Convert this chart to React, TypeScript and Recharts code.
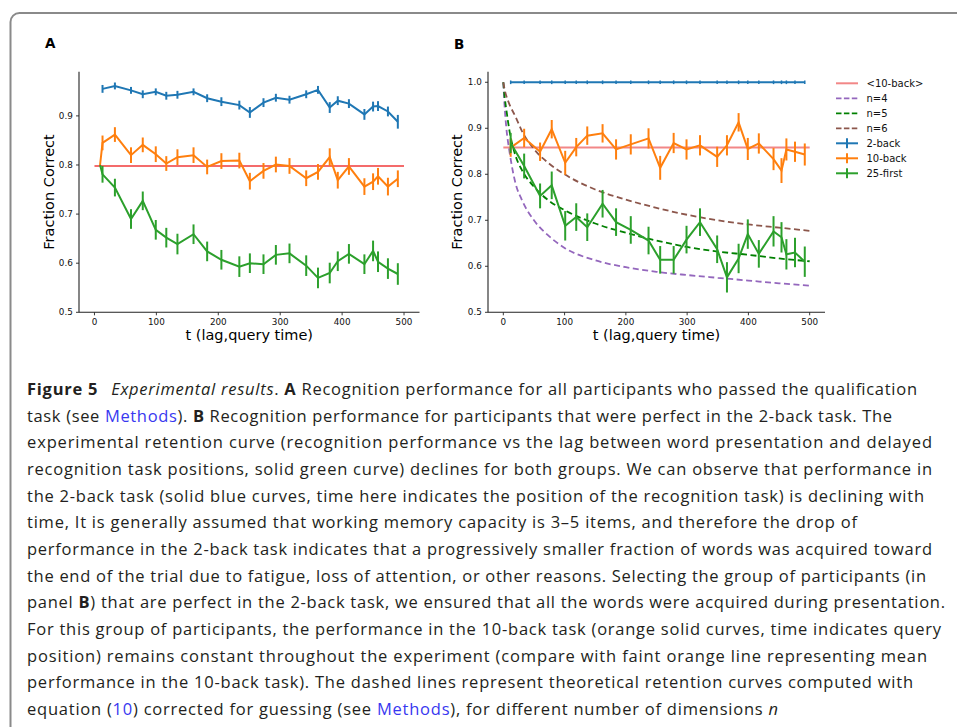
import React from 'react'
import { LineChart, Line, XAxis, YAxis, ErrorBar } from 'recharts'

// ---- panel A: everyone who passed the qualification task
const lagA = [13, 33, 59, 78, 99, 116, 134, 160, 182, 205, 234, 251, 273, 293, 315, 342, 361, 380, 393, 411, 436, 450, 458, 474, 490]
const twoBackA = [0.955, 0.961, 0.952, 0.944, 0.949, 0.941, 0.943, 0.949, 0.936, 0.929, 0.922, 0.907, 0.927, 0.937, 0.933, 0.944, 0.953, 0.917, 0.931, 0.925, 0.903, 0.919, 0.92, 0.909, 0.888]
const twoBackErrA = [0.008, 0.007, 0.007, 0.008, 0.007, 0.008, 0.008, 0.007, 0.008, 0.009, 0.009, 0.011, 0.009, 0.008, 0.008, 0.008, 0.008, 0.011, 0.009, 0.009, 0.011, 0.01, 0.01, 0.01, 0.014]
// 10-back and 25-first both begin with an extra point at lag 9
const lagA9 = [9, 13, 33, 59, 78, 99, 116, 134, 160, 182, 205, 234, 251, 273, 293, 315, 342, 361, 380, 393, 411, 436, 450, 458, 474, 490]
const tenBackA = [0.8, 0.845, 0.862, 0.82, 0.841, 0.822, 0.803, 0.816, 0.82, 0.796, 0.808, 0.809, 0.767, 0.788, 0.801, 0.798, 0.773, 0.786, 0.816, 0.769, 0.797, 0.756, 0.766, 0.777, 0.756, 0.772]
const tenBackErrA = [0, 0.015, 0.015, 0.016, 0.015, 0.016, 0.015, 0.016, 0.016, 0.015, 0.016, 0.016, 0.017, 0.016, 0.016, 0.016, 0.016, 0.016, 0.018, 0.017, 0.017, 0.017, 0.017, 0.017, 0.018, 0.017]
const firstA = [0.8, 0.781, 0.754, 0.69, 0.727, 0.668, 0.652, 0.639, 0.659, 0.624, 0.607, 0.593, 0.6, 0.598, 0.617, 0.62, 0.595, 0.57, 0.58, 0.604, 0.619, 0.598, 0.625, 0.603, 0.589, 0.578]
const firstErrA = [0, 0.017, 0.018, 0.02, 0.019, 0.02, 0.02, 0.021, 0.02, 0.02, 0.02, 0.021, 0.02, 0.02, 0.02, 0.02, 0.021, 0.021, 0.021, 0.02, 0.02, 0.02, 0.021, 0.021, 0.021, 0.022]
const meanTenBackA = 0.798

// ---- panel B: participants perfect in the 2-back task
const lagB = [12, 34, 60, 79, 101, 119, 137, 162, 184, 208, 237, 256, 278, 299, 321, 349, 365, 384, 399, 417, 441, 454, 462, 476, 492]
const twoBackB = [1, 1, 1, 1, 1, 1, 1, 1, 1, 1, 1, 1, 1, 1, 1, 1, 1, 1, 1, 1, 1, 1, 1, 1, 1]
const twoBackErrB = [0.004, 0.004, 0.004, 0.004, 0.004, 0.004, 0.004, 0.004, 0.004, 0.004, 0.004, 0.004, 0.004, 0.004, 0.004, 0.004, 0.004, 0.004, 0.004, 0.004, 0.004, 0.004, 0.004, 0.004, 0.004]
const tenBackB = [0.858, 0.879, 0.849, 0.898, 0.825, 0.859, 0.884, 0.889, 0.854, 0.865, 0.878, 0.814, 0.868, 0.854, 0.863, 0.838, 0.863, 0.913, 0.855, 0.867, 0.833, 0.808, 0.854, 0.849, 0.843]
const tenBackErrB = [0.02, 0.02, 0.02, 0.02, 0.026, 0.02, 0.02, 0.02, 0.022, 0.022, 0.022, 0.026, 0.022, 0.022, 0.022, 0.022, 0.022, 0.02, 0.024, 0.022, 0.024, 0.027, 0.024, 0.022, 0.024]
const firstB = [0.868, 0.818, 0.753, 0.776, 0.688, 0.707, 0.685, 0.736, 0.696, 0.679, 0.656, 0.614, 0.614, 0.658, 0.696, 0.637, 0.576, 0.617, 0.67, 0.627, 0.676, 0.663, 0.626, 0.63, 0.61]
const firstErrB = [0.022, 0.027, 0.027, 0.03, 0.032, 0.03, 0.03, 0.03, 0.03, 0.03, 0.03, 0.03, 0.03, 0.03, 0.03, 0.03, 0.033, 0.032, 0.032, 0.03, 0.033, 0.033, 0.033, 0.032, 0.033]
const meanTenBackB = 0.858

// theoretical retention curves (corrected for guessing)
const tTheory = [0, 2, 5, 10, 20, 30, 50, 75, 100, 150, 200, 250, 300, 350, 400, 450, 500]
const theoryN4 = [1, 0.95, 0.9, 0.85, 0.78, 0.745, 0.7, 0.665, 0.64, 0.613, 0.598, 0.588, 0.581, 0.575, 0.569, 0.563, 0.558]
const theoryN5 = [1, 0.97, 0.94, 0.895, 0.84, 0.81, 0.773, 0.742, 0.722, 0.693, 0.673, 0.656, 0.642, 0.632, 0.625, 0.617, 0.611]
const theoryN6 = [1, 0.985, 0.97, 0.952, 0.925, 0.895, 0.855, 0.823, 0.8, 0.767, 0.745, 0.727, 0.712, 0.7, 0.691, 0.684, 0.677]

const meanSpan = [0, 500]
const ticksX = [0, 100, 200, 300, 400, 500]
const ticksYA = [0.5, 0.6, 0.7, 0.8, 0.9]
const ticksYB = [0.5, 0.6, 0.7, 0.8, 0.9, 1.0]

const legendNames = ['<10-back>', 'n=4', 'n=5', 'n=6', '2-back', '10-back', '25-first']

const C = {
  blue: '#1f77b4',
  orange: '#ff7f0e',
  green: '#2ca02c',
  purple: '#9467bd',
  dkgreen: '#008000',
  brown: '#8c564b',
  redA: '#f03a3a',
  redB: '#f28787',
}

const FONT = "'DejaVu Sans', sans-serif"
const CAP_FONT = "'Open Sans', sans-serif"

function rows(t: number[], v: number[], e?: number[]) {
  return t.map((x, i) => ({ t: x, v: v[i], err: e ? e[i] : 0 }))
}

const tickStyle = { fill: '#111', fontSize: 8.8, fontFamily: FONT }
const labelStyle = { fill: '#000', fontSize: 14.5, fontFamily: FONT }

// shared matplotlib-like axes: only left and bottom spines
function axes(yDomain: number[], yTicks: number[], yWidth: number, yLabelOffset: number) {
  return [
    <XAxis
      key="x"
      type="number"
      dataKey="t"
      domain={[-25, 525]}
      ticks={ticksX}
      interval={0}
      allowDataOverflow
      height={47.7}
      tick={tickStyle}
      tickSize={3}
      tickMargin={3}
      axisLine={{ stroke: '#222', strokeWidth: 1.1 }}
      tickLine={{ stroke: '#222', strokeWidth: 0.9 }}
      label={{ value: 't (lag,query time)', position: 'insideBottom', offset: 20.5, ...labelStyle }}
    />,
    <YAxis
      key="y"
      type="number"
      domain={yDomain}
      ticks={yTicks}
      interval={0}
      allowDataOverflow
      width={yWidth}
      tick={tickStyle}
      tickSize={3}
      tickMargin={3.2}
      tickFormatter={(v: number) => v.toFixed(1)}
      axisLine={{ stroke: '#222', strokeWidth: 1.1 }}
      tickLine={{ stroke: '#222', strokeWidth: 0.9 }}
      label={{
        value: 'Fraction Correct',
        angle: -90,
        position: 'insideLeft',
        offset: yLabelOffset,
        ...labelStyle,
        style: { textAnchor: 'middle' },
      }}
    />,
  ]
}

function PanelA() {
  return (
    <LineChart width={430} height={360} margin={{ top: 71.7, right: 10.5, bottom: 0, left: 0 }}>
      {axes([0.5, 0.99], ticksYA, 79, 48.5)}
      <Line
        data={rows(meanSpan, [meanTenBackA, meanTenBackA])}
        dataKey="v"
        stroke={C.redA}
        strokeWidth={1.3}
        dot={false}
        activeDot={false}
        isAnimationActive={false}
      />
      <Line data={rows(lagA, twoBackA, twoBackErrA)} dataKey="v" stroke={C.blue} strokeWidth={2} dot={false} activeDot={false} isAnimationActive={false}>
        <ErrorBar dataKey="err" width={0} stroke={C.blue} strokeWidth={2} direction="y" />
      </Line>
      <Line data={rows(lagA9, tenBackA, tenBackErrA)} dataKey="v" stroke={C.orange} strokeWidth={2} dot={false} activeDot={false} isAnimationActive={false}>
        <ErrorBar dataKey="err" width={0} stroke={C.orange} strokeWidth={2} direction="y" />
      </Line>
      <Line data={rows(lagA9, firstA, firstErrA)} dataKey="v" stroke={C.green} strokeWidth={2} dot={false} activeDot={false} isAnimationActive={false}>
        <ErrorBar dataKey="err" width={0} stroke={C.green} strokeWidth={2} direction="y" />
      </Line>
    </LineChart>
  )
}

function PanelB() {
  const dash = { strokeWidth: 1.8, strokeDasharray: '6 3.5', dot: false, activeDot: false, isAnimationActive: false, type: 'monotone' as const }
  return (
    <LineChart width={537} height={360} margin={{ top: 71.7, right: 132, bottom: 0, left: 0 }}>
      {axes([0.5, 1.023], ticksYB, 68, 36.5)}
      <Line
        data={rows(meanSpan, [meanTenBackB, meanTenBackB])}
        dataKey="v"
        stroke={C.redB}
        strokeWidth={2}
        dot={false}
        activeDot={false}
        isAnimationActive={false}
      />
      <Line data={rows(tTheory, theoryN4)} dataKey="v" stroke={C.purple} {...dash} />
      <Line data={rows(tTheory, theoryN5)} dataKey="v" stroke={C.dkgreen} {...dash} />
      <Line data={rows(tTheory, theoryN6)} dataKey="v" stroke={C.brown} {...dash} />
      <Line data={rows(lagB, twoBackB, twoBackErrB)} dataKey="v" stroke={C.blue} strokeWidth={2} dot={false} activeDot={false} isAnimationActive={false}>
        <ErrorBar dataKey="err" width={0} stroke={C.blue} strokeWidth={1.5} direction="y" />
      </Line>
      <Line data={rows(lagB, tenBackB, tenBackErrB)} dataKey="v" stroke={C.orange} strokeWidth={2} dot={false} activeDot={false} isAnimationActive={false}>
        <ErrorBar dataKey="err" width={0} stroke={C.orange} strokeWidth={2} direction="y" />
      </Line>
      <Line data={rows(lagB, firstB, firstErrB)} dataKey="v" stroke={C.green} strokeWidth={2} dot={false} activeDot={false} isAnimationActive={false}>
        <ErrorBar dataKey="err" width={0} stroke={C.green} strokeWidth={2} direction="y" />
      </Line>
    </LineChart>
  )
}

function LegendB() {
  const colors = [C.redB, C.purple, C.dkgreen, C.brown, C.blue, C.orange, C.green]
  const kinds = ['solid', 'dash', 'dash', 'dash', 'err', 'err', 'err']
  return (
    <g>
      {legendNames.map((name, i) => {
        const y = 83.3 + i * 15
        return (
          <g key={name}>
            <line
              x1={836}
              x2={858}
              y1={y}
              y2={y}
              stroke={colors[i]}
              strokeWidth={kinds[i] === 'dash' ? 1.8 : 2}
              strokeDasharray={kinds[i] === 'dash' ? '5.5 2.4' : undefined}
            />
            {kinds[i] === 'err' && <line x1={847} x2={847} y1={y - 5} y2={y + 5} stroke={colors[i]} strokeWidth={2} />}
            <text x={866.5} y={y + 3.6} fontSize={10} fontFamily={FONT} fill="#111">
              {name}
            </text>
          </g>
        )
      })}
    </g>
  )
}

type Seg = { text: string; bold?: boolean; italic?: boolean; link?: boolean; dx?: number }

const captionLines: Seg[][] = [
  [
    { text: 'Figure 5', bold: true },
    { text: ' ' },
    { text: 'Experimental results', italic: true, dx: 8 },
    { text: '. ' },
    { text: 'A', bold: true },
    { text: ' Recognition performance for all participants who passed the qualification' },
  ],
  [
    { text: 'task (see ' },
    { text: 'Methods', link: true },
    { text: '). ' },
    { text: 'B', bold: true },
    { text: ' Recognition performance for participants that were perfect in the 2-back task. The' },
  ],
  [{ text: 'experimental retention curve (recognition performance vs the lag between word presentation and delayed' }],
  [{ text: 'recognition task positions, solid green curve) declines for both groups. We can observe that performance in' }],
  [{ text: 'the 2-back task (solid blue curves, time here indicates the position of the recognition task) is declining with' }],
  [{ text: 'time, It is generally assumed that working memory capacity is 3\u20135 items, and therefore the drop of' }],
  [{ text: 'performance in the 2-back task indicates that a progressively smaller fraction of words was acquired toward' }],
  [{ text: 'the end of the trial due to fatigue, loss of attention, or other reasons. Selecting the group of participants (in' }],
  [
    { text: 'panel ' },
    { text: 'B', bold: true },
    { text: ') that are perfect in the 2-back task, we ensured that all the words were acquired during presentation.' },
  ],
  [{ text: 'For this group of participants, the performance in the 10-back task (orange solid curves, time indicates query' }],
  [{ text: 'position) remains constant throughout the experiment (compare with faint orange line representing mean' }],
  [{ text: 'performance in the 10-back task). The dashed lines represent theoretical retention curves computed with' }],
  [
    { text: 'equation (' },
    { text: '10', link: true },
    { text: ') corrected for guessing (see ' },
    { text: 'Methods', link: true },
    { text: '), for different number of dimensions ' },
    { text: 'n', italic: true },
  ],
]
const captionEnds = [917, 892, 932, 932, 924, 857, 932, 926, 945, 941, 927, 913, 778]

function Caption() {
  return (
    <g fontFamily={CAP_FONT} fontSize={16.5} fill="#231f20" style={{ whiteSpace: 'pre' }}>
      {captionLines.map((segs, i) => (
        <text key={i} x={27} y={395 + i * 26.67} textLength={captionEnds[i] - 27} lengthAdjust="spacing">
          {segs.map((s, j) => (
            <tspan
              key={j}
              dx={s.dx}
              fontWeight={s.bold ? 700 : 400}
              fontStyle={s.italic ? 'italic' : 'normal'}
              fill={s.link ? '#3838f0' : undefined}
            >
              {s.text}
            </tspan>
          ))}
        </text>
      ))}
    </g>
  )
}

export default function App() {
  return (
    <div style={{ position: 'absolute', left: 0, top: 0, width: 957, height: 727, overflow: 'hidden', background: '#fff' }}>
      <div style={{ position: 'absolute', left: 0, top: 0 }}>
        <PanelA />
      </div>
      <div style={{ position: 'absolute', left: 420, top: 0 }}>
        <PanelB />
      </div>
      <svg width={957} height={727} style={{ position: 'absolute', left: 0, top: 0, pointerEvents: 'none' }}>
        <rect x={10.5} y={13} width={1100} height={900} rx={9} fill="none" stroke="#8a8a8a" strokeWidth={2} />
        <text x={45} y={48} fontSize={13.5} fontWeight={700} fontFamily={FONT} fill="#000">
          A
        </text>
        <text x={454} y={48.5} fontSize={13.5} fontWeight={700} fontFamily={FONT} fill="#000">
          B
        </text>
        <LegendB />
        <Caption />
      </svg>
    </div>
  )
}
